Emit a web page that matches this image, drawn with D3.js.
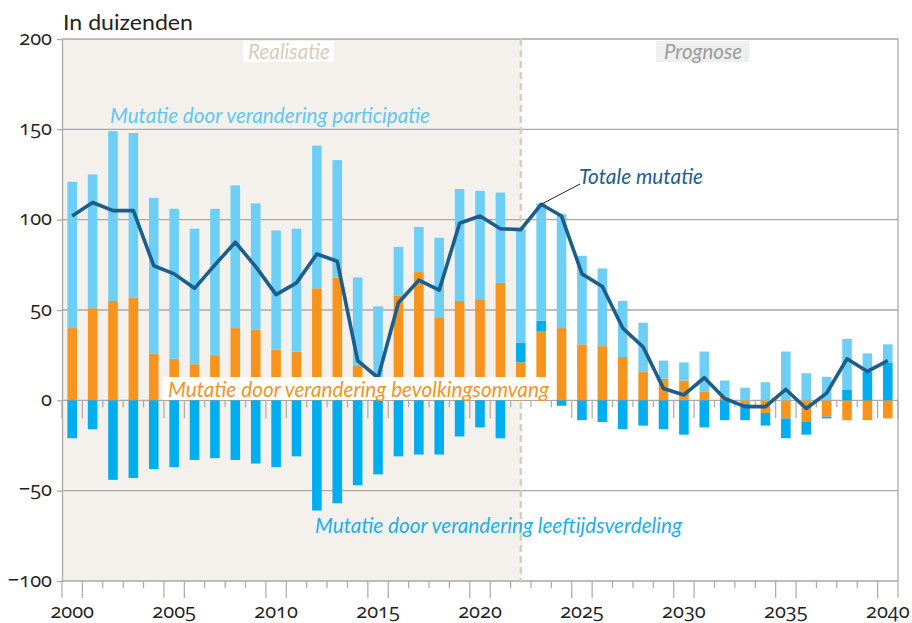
<!DOCTYPE html>
<html><head><meta charset="utf-8">
<script src="https://cdn.jsdelivr.net/npm/d3@7"></script>
<style>
html,body{margin:0;padding:0;background:#fff;}
svg{display:block;}
.num{font-family:"Open Sans",sans-serif;font-variant-numeric:oldstyle-nums;font-feature-settings:"onum";}
.lbl{font-family:Lato,"Open Sans",sans-serif;font-style:italic;}
</style></head><body>
<svg id="chart" width="912" height="623"></svg>
<script>
// ---- data (in duizenden) ----
const years = [2000,2001,2002,2003,2004,2005,2006,2007,2008,2009,2010,2011,2012,2013,2014,2015,2016,2017,2018,2019,2020,
               2021,2022,2023,2024,2025,2026,2027,2028,2029,2030,2031,2032,2033,2034,2035,2036,2037,2038,2039,2040];
const bevolkingsomvang = [40,51,55,57,26,23,20,25,40,39,28,27,62,68,19,13,58,71,46,55,56,
                          65,21,38,40,31,30,24,16,12,11,5,2,-2,-7,-10,-12,-9,-11,-11,-10];
const leeftijdsverdeling = [-21,-16,-44,-43,-38,-37,-33,-32,-33,-35,-37,-31,-61,-57,-47,-41,-31,-30,-30,-20,-15,
                            -21,11,6,-3,-11,-12,-16,-14,-16,-19,-15,-11,-9,-7,-11,-7,-1,6,16,21];
const participatie = [81,74,94,91,86,83,75,81,79,70,66,68,79,65,49,39,27,25,44,62,60,
                      50,63,65,63,49,43,31,27,10,10,22,9,7,10,27,15,13,28,10,10];
const totaleMutatie = [102,109.5,105,105,74.5,70,62,75,87.5,74,58.5,65,81,77,22,12.5,54,66.5,61,98,102,
                       95,94.5,108.5,102,70,63,40,29.5,6.5,3,12.5,1,-3.5,-3.5,6,-4.5,4,23,16,22];
const yTicks = [-100,-50,0,50,100,150,200];
const xLabels = [2000,2005,2010,2015,2020,2025,2030,2035,2040];
const lastRealisatie = 2022;

const colors = {bevolkingsomvang:"#f7941d", leeftijdsverdeling:"#00aeef", participatie:"#6dcff6"};

// ---- layout ----
const L=62, R=898, T=39, B=581;
const svg = d3.select("#chart");
const x = d3.scaleBand().domain(years).range([L,R]).paddingInner(0.53).paddingOuter(0.265);
const bw = x.bandwidth();
const xb = d3.scaleLinear().domain([years[0], years[years.length-1]+1]).range([L,R]);
const y = d3.scaleLinear().domain([-100,200]).range([B,T]);
const grid = "#a9a9a9";

// shaded realisatie area
const xSplit = x(lastRealisatie) + bw/2;
svg.append("rect").attr("x",L).attr("y",T).attr("width",xSplit-L).attr("height",B-T).attr("fill","#f4f1ec");

// grid lines
svg.append("g").selectAll("line").data(yTicks).join("line")
  .attr("x1",L).attr("x2",R).attr("y1",d=>y(d)).attr("y2",d=>y(d))
  .attr("stroke",grid).attr("stroke-width",1.3);
svg.append("line").attr("x1",R).attr("x2",R).attr("y1",T).attr("y2",B).attr("stroke",grid).attr("stroke-width",1.3);

// dashed split
svg.append("line").attr("x1",xSplit).attr("x2",xSplit).attr("y1",T).attr("y2",B)
  .attr("stroke","#dccab4").attr("stroke-width",2.2).attr("stroke-dasharray","7,4");

// year boundary ticks (zero line & bottom)
const bounds = d3.range(years[0], years[years.length-1]+2);
const isLong = yr => (yr%5===0 || yr%5===1);
svg.append("g").selectAll("line").data(bounds).join("line")
  .attr("x1",d=>xb(d)).attr("x2",d=>xb(d)).attr("y1",y(0)).attr("y2",d=>y(0)+(isLong(d)?18:7))
  .attr("stroke",grid).attr("stroke-width",1.2);
svg.append("g").selectAll("line").data(bounds).join("line")
  .attr("x1",d=>xb(d)).attr("x2",d=>xb(d)).attr("y1",B).attr("y2",d=>B+(isLong(d)?17:7))
  .attr("stroke",grid).attr("stroke-width",1.2);

// y axis
const yAxis = svg.append("g").attr("transform",`translate(${L},0)`)
  .call(d3.axisLeft(y).tickValues(yTicks).tickSize(5).tickSizeOuter(0).tickPadding(5)
        .tickFormat(d => d<0 ? "\u2212"+Math.abs(d) : String(d)));
yAxis.select(".domain").attr("stroke",grid).attr("stroke-width",1.3);
yAxis.selectAll(".tick line").attr("stroke",grid).attr("stroke-width",1.3);
yAxis.selectAll(".tick text").attr("class","num").attr("font-size",20).attr("fill","#222")
  .attr("dy","0.25em");

// x labels
svg.append("g").selectAll("text").data(xLabels).join("text")
  .attr("class","num").attr("x",d=>x(d)+bw/2).attr("y",618).attr("text-anchor","middle")
  .attr("font-size",20).attr("fill","#222").text(d=>d);

// stacked bars
const rows = years.map((yr,i)=>({year:yr, bevolkingsomvang:bevolkingsomvang[i],
  leeftijdsverdeling:leeftijdsverdeling[i], participatie:participatie[i]}));
const stack = d3.stack().keys(["bevolkingsomvang","leeftijdsverdeling","participatie"])
  .offset(d3.stackOffsetDiverging)(rows);
svg.append("g").selectAll("g").data(stack).join("g").attr("fill",s=>colors[s.key])
  .selectAll("rect").data(s=>s).join("rect")
  .attr("x",d=>x(d.data.year)).attr("width",bw)
  .attr("y",d=>y(Math.max(d[0],d[1]))).attr("height",d=>Math.abs(y(d[0])-y(d[1])));

// total line
const lineData = years.map((yr,i)=>({year:yr, v:totaleMutatie[i]}));
svg.append("path").datum(lineData)
  .attr("d", d3.line().x(d=>x(d.year)+bw/2).y(d=>y(d.v)))
  .attr("fill","none").attr("stroke","#1b5e8c").attr("stroke-width",3.6).attr("stroke-linejoin","round");

// labels
function label(txt, x0, y0, len, fill, size, anchor){
  return svg.append("text").attr("class","lbl").attr("x",x0).attr("y",y0)
    .attr("font-size",size).attr("fill",fill).attr("text-anchor",anchor||"start")
    .attr("textLength",len).attr("lengthAdjust","spacingAndGlyphs").text(txt);
}
// title
svg.append("text").attr("x",63).attr("y",30).attr("font-size",22)
  .style("font-family","Lato,'Open Sans',sans-serif").attr("fill","#231f20")
  .attr("textLength",130).attr("lengthAdjust","spacingAndGlyphs").text("In duizenden");

svg.append("rect").attr("x",243).attr("y",41).attr("width",91).attr("height",21).attr("fill","#fff");
label("Realisatie", 289, 59, 82, "#dccbb8", 22, "middle");
svg.append("rect").attr("x",656).attr("y",41).attr("width",93).attr("height",21).attr("fill","#efefef");
label("Prognose", 703, 59, 78, "#9b9b9b", 22, "middle");

label("Mutatie door verandering participatie", 110, 123, 320, "#5ec8f3", 21);
label("Totale mutatie", 579, 184, 124, "#1c5f8c", 21);
svg.append("line").attr("x1",580).attr("y1",184).attr("x2",x(2023)+bw/2).attr("y2",y(108.5))
  .attr("stroke","#222").attr("stroke-width",1);

svg.append("rect").attr("x",163).attr("y",377).attr("width",390).attr("height",23).attr("fill","#fff");
label("Mutatie door verandering bevolkingsomvang", 168, 397, 381, "#f7941d", 21);
label("Mutatie door verandering leeftijdsverdeling", 315, 533, 367, "#1cb0ec", 21);
</script>
</body></html>
